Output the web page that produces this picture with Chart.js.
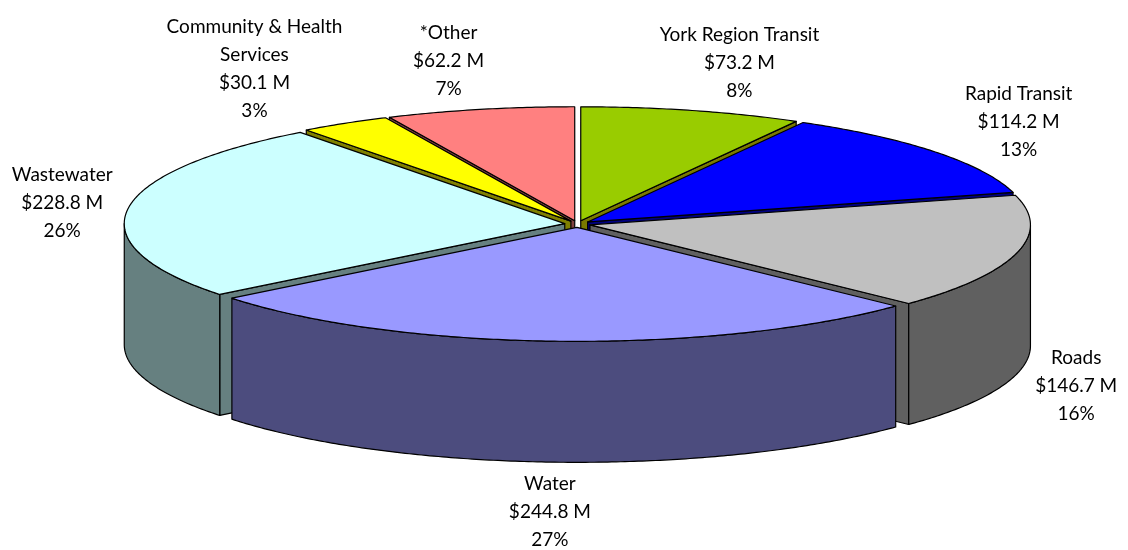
<!DOCTYPE html>
<html><head><meta charset="utf-8">
<script src="https://cdn.jsdelivr.net/npm/chart.js@4.4.1/dist/chart.umd.min.js"></script>
<style>html,body{margin:0;padding:0;background:#fff}canvas{display:block}</style>
</head><body>
<canvas id="c" width="1128" height="550"></canvas>
<script>
// ---- data ----
const categories = [["York Region Transit"], ["Rapid Transit"], ["Roads"], ["Water"], ["Wastewater"], ["Community & Health", "Services"], ["*Other"]];
const values = [73.2, 114.2, 146.7, 244.8, 228.8, 30.1, 62.2];
const shareLabels = ["8%", "13%", "16%", "27%", "26%", "3%", "7%"];
const topColors = ["#99CC00", "#0000FF", "#C0C0C0", "#9999FF", "#CCFFFF", "#FFFF00", "#FF8080"];
const sideColors = ["#7A7A00", "#000080", "#606060", "#4C4C7E", "#668080", "#808000", "#804040"];

// ---- style constants ----
const DEPTH = 121;
const LINE = 28;
const FONT = '19px Lato, "Open Sans", sans-serif';

function geometry(chart) {
  const ca = chart.chartArea;
  const rx = (ca.right - ca.left) / 2;
  const ry = (ca.bottom - ca.top - DEPTH) / 2;
  return { cx: (ca.left + ca.right) / 2, cy: ca.top + ry, rx, ry };
}

function sliceList(chart) {
  const meta = chart.getDatasetMeta(0);
  return meta.data.map((arc, i) => {
    const p = arc.getProps(['x', 'y', 'startAngle', 'endAngle', 'outerRadius'], true);
    const R = p.outerRadius;
    const mid = (p.startAngle + p.endAngle) / 2;
    const off = (arc.options.offset || 0) / R;
    return { i, s: p.startAngle, e: p.endAngle, mid, ox: Math.cos(mid) * off, oy: Math.sin(mid) * off };
  });
}

const pie3d = {
  id: 'pie3d',
  beforeDatasetsDraw(chart) {
    const ctx = chart.ctx;
    const g = geometry(chart);
    const slices = sliceList(chart);
    const pt = (sl, a, r, dz) => [g.cx + (Math.cos(a) * r + sl.ox) * g.rx, g.cy + (Math.sin(a) * r + sl.oy) * g.ry + (dz || 0)];
    const arcPts = (sl, a1, a2, dz) => {
      const n = Math.max(2, Math.ceil(Math.abs(a2 - a1) / 0.01));
      const out = [];
      for (let k = 0; k <= n; k++) out.push(pt(sl, a1 + (a2 - a1) * k / n, 1, dz));
      return out;
    };
    const poly = (pts, fill) => {
      ctx.beginPath();
      pts.forEach((p, k) => k ? ctx.lineTo(p[0], p[1]) : ctx.moveTo(p[0], p[1]));
      ctx.closePath();
      ctx.fillStyle = fill;
      ctx.fill();
      ctx.stroke();
    };
    ctx.save();
    ctx.strokeStyle = '#000';
    ctx.lineWidth = 1.2;
    ctx.lineJoin = 'round';

    // radial faces
    const faces = [];
    slices.forEach(sl => {
      [[sl.s, Math.cos(sl.s) < 0], [sl.e, Math.cos(sl.e) > 0]].forEach(([a, vis]) => {
        if (!vis) return;
        const pts = [pt(sl, a, 0, 0), pt(sl, a, 1, 0), pt(sl, a, 1, DEPTH), pt(sl, a, 0, DEPTH)];
        const my = pts.reduce((t, p) => t + p[1], 0) / 4;
        faces.push({ pts, my, col: sideColors[sl.i] });
      });
    });
    faces.sort((a, b) => a.my - b.my).forEach(f => poly(f.pts, f.col));

    // outer walls (front half only)
    slices.forEach(sl => {
      const a1 = Math.max(sl.s, 0), a2 = Math.min(sl.e, Math.PI);
      if (a1 >= a2) return;
      const pts = arcPts(sl, a1, a2, 0).concat(arcPts(sl, a2, a1, DEPTH));
      poly(pts, sideColors[sl.i]);
    });

    // tops
    slices.forEach(sl => {
      const pts = [pt(sl, 0, 0, 0)].concat(arcPts(sl, sl.s, sl.e, 0));
      poly(pts, topColors[sl.i]);
    });
    ctx.restore();
    return false;
  },
  afterDraw(chart) {
    const ctx = chart.ctx;
    const g = geometry(chart);
    const slices = sliceList(chart);
    ctx.save();
    ctx.font = FONT;
    ctx.fillStyle = '#000';
    ctx.textAlign = 'center';
    ctx.textBaseline = 'middle';
    slices.forEach(sl => {
      const i = sl.i;
      const lines = categories[i].concat(['$' + values[i].toFixed(1) + ' M', shareLabels[i]]);
      const w = Math.max(...lines.map(l => ctx.measureText(l).width));
      const h = lines.length * LINE;
      const c = Math.cos(sl.mid), s = Math.sin(sl.mid);
      const gx = 27 + 100 * s * s, gy = 11;
      const x = g.cx + c * (g.rx + gx + w / 2);
      const y = g.cy + s * (g.ry + gy + h / 2) + (s > 0 ? DEPTH : 0);
      lines.forEach((l, k) => ctx.fillText(l, x, y + (k - (lines.length - 1) / 2) * LINE));
    });
    ctx.restore();
  }
};

new Chart(document.getElementById('c'), {
  type: 'pie',
  data: {
    labels: categories,
    datasets: [{ data: values, backgroundColor: topColors, borderColor: '#000', borderWidth: 1, offset: 5 }]
  },
  options: {
    responsive: false,
    animation: false,
    devicePixelRatio: 1,
    events: [],
    layout: { padding: { left: 137, right: 110, top: 110, bottom: 91 } },
    plugins: { legend: { display: false }, tooltip: { enabled: false } }
  },
  plugins: [pie3d]
});
</script>
</body></html>
